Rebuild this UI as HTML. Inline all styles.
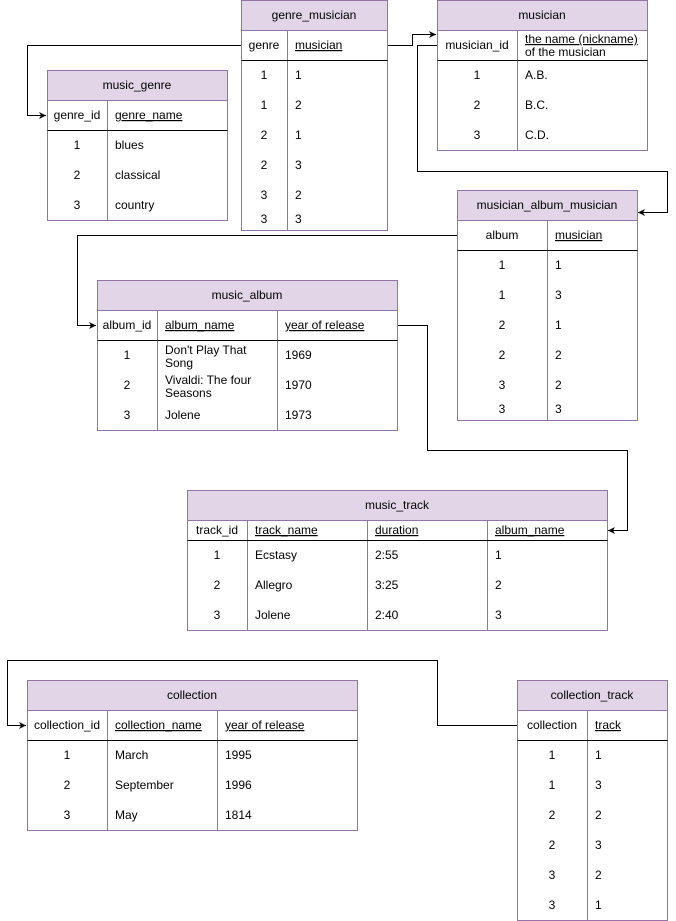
<!DOCTYPE html>
<html><head><meta charset="utf-8"><style>
html,body{margin:0;padding:0;background:#fff}
svg{display:block}
text{font-family:"Liberation Sans",Arial,sans-serif;font-size:12px;fill:#000}
.h{text-anchor:middle}
.c{text-anchor:middle}
.u{text-decoration:underline}
.box{fill:#fff;stroke:#9673a6;stroke-width:1}
.hd{fill:#e1d5e7;stroke:#9673a6;stroke-width:1}
.dv{stroke:#9673a6;stroke-width:1}
.bl{stroke:#000;stroke-width:1}
.ln{fill:none;stroke:#000;stroke-width:1}
</style></head><body>
<svg width="676" height="921" viewBox="0 0 676 921" xmlns="http://www.w3.org/2000/svg">
<defs><marker id="a" markerWidth="8" markerHeight="8" refX="7" refY="4" orient="auto" markerUnits="userSpaceOnUse"><path d="M0,0.5 L7,4 L0,7.5 L2,4 Z" fill="#000"/></marker></defs>

<path class="ln" d="M241.5,45.5 H27.5 V115.5 H46" marker-end="url(#a)"/>
<path class="ln" d="M387.5,45.5 H412.5 V34.5 H436" marker-end="url(#a)"/>
<path class="ln" d="M437.5,45.5 H417.5 V171.5 H667.5 V212.5 H638" marker-end="url(#a)"/>
<path class="ln" d="M457.5,235.5 H77.5 V325.5 H96" marker-end="url(#a)"/>
<path class="ln" d="M397.5,325.5 H427.5 V450.5 H627.5 V530.5 H608" marker-end="url(#a)"/>
<path class="ln" d="M517.5,725.5 H437.5 V660.5 H7.5 V725.5 H26" marker-end="url(#a)"/>

<rect class="box" x="241.5" y="0.5" width="146" height="230"/>
<rect class="hd" x="241.5" y="0.5" width="146" height="30"/>
<line class="dv" x1="287.5" y1="30.5" x2="287.5" y2="230.5"/>
<line class="bl" x1="241.5" y1="60.5" x2="387.5" y2="60.5"/>
<text class="h" x="314" y="19">genre_musician</text>
<text class="c" x="264" y="49">genre</text><text class="u" x="295" y="49">musician</text>
<text class="c" x="264" y="79">1</text><text x="295" y="79">1</text>
<text class="c" x="264" y="109">1</text><text x="295" y="109">2</text>
<text class="c" x="264" y="139">2</text><text x="295" y="139">1</text>
<text class="c" x="264" y="169">2</text><text x="295" y="169">3</text>
<text class="c" x="264" y="199">3</text><text x="295" y="199">2</text>
<text class="c" x="264" y="223">3</text><text x="295" y="223">3</text>

<rect class="box" x="437.5" y="0.5" width="210" height="150"/>
<rect class="hd" x="437.5" y="0.5" width="210" height="30"/>
<line class="dv" x1="517.5" y1="30.5" x2="517.5" y2="150.5"/>
<line class="bl" x1="437.5" y1="60.5" x2="647.5" y2="60.5"/>
<text class="h" x="542" y="19">musician</text>
<text class="c" x="477" y="49">musician_id</text>
<text class="u" x="525" y="43">the name (nickname)</text><text x="525" y="56">of the musician</text>
<text class="c" x="477" y="79">1</text><text x="525" y="79">A.B.</text>
<text class="c" x="477" y="109">2</text><text x="525" y="109">B.C.</text>
<text class="c" x="477" y="139">3</text><text x="525" y="139">C.D.</text>

<rect class="box" x="47.5" y="70.5" width="180" height="150"/>
<rect class="hd" x="47.5" y="70.5" width="180" height="30"/>
<line class="dv" x1="107.5" y1="100.5" x2="107.5" y2="220.5"/>
<line class="bl" x1="47.5" y1="130.5" x2="227.5" y2="130.5"/>
<text class="h" x="137" y="89">music_genre</text>
<text class="c" x="77" y="119">genre_id</text><text class="u" x="115" y="119">genre_name</text>
<text class="c" x="77" y="149">1</text><text x="115" y="149">blues</text>
<text class="c" x="77" y="179">2</text><text x="115" y="179">classical</text>
<text class="c" x="77" y="209">3</text><text x="115" y="209">country</text>

<rect class="box" x="457.5" y="190.5" width="180" height="230"/>
<rect class="hd" x="457.5" y="190.5" width="180" height="30"/>
<line class="dv" x1="547.5" y1="220.5" x2="547.5" y2="420.5"/>
<line class="bl" x1="457.5" y1="250.5" x2="637.5" y2="250.5"/>
<text class="h" x="547" y="209">musician_album_musician</text>
<text class="c" x="502" y="239">album</text><text class="u" x="555" y="239">musician</text>
<text class="c" x="502" y="269">1</text><text x="555" y="269">1</text>
<text class="c" x="502" y="299">1</text><text x="555" y="299">3</text>
<text class="c" x="502" y="329">2</text><text x="555" y="329">1</text>
<text class="c" x="502" y="359">2</text><text x="555" y="359">2</text>
<text class="c" x="502" y="389">3</text><text x="555" y="389">2</text>
<text class="c" x="502" y="413">3</text><text x="555" y="413">3</text>

<rect class="box" x="97.5" y="280.5" width="300" height="150"/>
<rect class="hd" x="97.5" y="280.5" width="300" height="30"/>
<line class="dv" x1="157.5" y1="310.5" x2="157.5" y2="430.5"/>
<line class="dv" x1="277.5" y1="310.5" x2="277.5" y2="430.5"/>
<line class="bl" x1="97.5" y1="340.5" x2="397.5" y2="340.5"/>
<text class="h" x="247" y="299">music_album</text>
<text class="c" x="127" y="329">album_id</text><text class="u" x="165" y="329">album_name</text><text class="u" x="285" y="329">year of release</text>
<text class="c" x="127" y="359">1</text><text x="165" y="354">Don't Play That</text><text x="165" y="367">Song</text><text x="285" y="359">1969</text>
<text class="c" x="127" y="389">2</text><text x="165" y="384">Vivaldi: The four</text><text x="165" y="397">Seasons</text><text x="285" y="389">1970</text>
<text class="c" x="127" y="419">3</text><text x="165" y="419">Jolene</text><text x="285" y="419">1973</text>

<rect class="box" x="187.5" y="490.5" width="420" height="140"/>
<rect class="hd" x="187.5" y="490.5" width="420" height="30"/>
<line class="dv" x1="247.5" y1="520.5" x2="247.5" y2="630.5"/>
<line class="dv" x1="367.5" y1="520.5" x2="367.5" y2="630.5"/>
<line class="dv" x1="487.5" y1="520.5" x2="487.5" y2="630.5"/>
<line class="bl" x1="187.5" y1="540.5" x2="607.5" y2="540.5"/>
<text class="h" x="397" y="509">music_track</text>
<text class="c" x="217" y="534">track_id</text><text class="u" x="255" y="534">track_name</text><text class="u" x="375" y="534">duration</text><text class="u" x="495" y="534">album_name</text>
<text class="c" x="217" y="559">1</text><text x="255" y="559">Ecstasy</text><text x="375" y="559">2:55</text><text x="495" y="559">1</text>
<text class="c" x="217" y="589">2</text><text x="255" y="589">Allegro</text><text x="375" y="589">3:25</text><text x="495" y="589">2</text>
<text class="c" x="217" y="619">3</text><text x="255" y="619">Jolene</text><text x="375" y="619">2:40</text><text x="495" y="619">3</text>

<rect class="box" x="27.5" y="680.5" width="330" height="150"/>
<rect class="hd" x="27.5" y="680.5" width="330" height="30"/>
<line class="dv" x1="107.5" y1="710.5" x2="107.5" y2="830.5"/>
<line class="dv" x1="217.5" y1="710.5" x2="217.5" y2="830.5"/>
<line class="bl" x1="27.5" y1="740.5" x2="357.5" y2="740.5"/>
<text class="h" x="192" y="699">collection</text>
<text class="c" x="67" y="729">collection_id</text><text class="u" x="115" y="729">collection_name</text><text class="u" x="225" y="729">year of release</text>
<text class="c" x="67" y="759">1</text><text x="115" y="759">March</text><text x="225" y="759">1995</text>
<text class="c" x="67" y="789">2</text><text x="115" y="789">September</text><text x="225" y="789">1996</text>
<text class="c" x="67" y="819">3</text><text x="115" y="819">May</text><text x="225" y="819">1814</text>

<rect class="box" x="517.5" y="680.5" width="150" height="240"/>
<rect class="hd" x="517.5" y="680.5" width="150" height="30"/>
<line class="dv" x1="587.5" y1="710.5" x2="587.5" y2="920.5"/>
<line class="bl" x1="517.5" y1="740.5" x2="667.5" y2="740.5"/>
<text class="h" x="592" y="699">collection_track</text>
<text class="c" x="552" y="729">collection</text><text class="u" x="595" y="729">track</text>
<text class="c" x="552" y="759">1</text><text x="595" y="759">1</text>
<text class="c" x="552" y="789">1</text><text x="595" y="789">3</text>
<text class="c" x="552" y="819">2</text><text x="595" y="819">2</text>
<text class="c" x="552" y="849">2</text><text x="595" y="849">3</text>
<text class="c" x="552" y="879">3</text><text x="595" y="879">2</text>
<text class="c" x="552" y="909">3</text><text x="595" y="909">1</text>
</svg>
</body></html>
